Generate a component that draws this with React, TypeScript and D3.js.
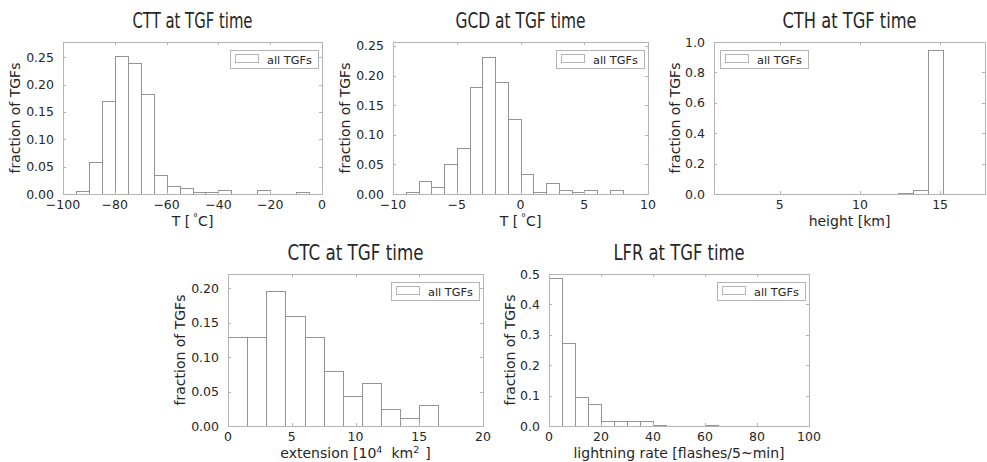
import React from 'react';
import * as d3 from 'd3';

// ---------- data ----------
const cttEdges = [-95, -90, -85, -80, -75, -70, -65, -60, -55, -50, -45, -40, -35, -30, -25, -20, -15, -10, -5];
const cttFraction = [0.006, 0.058, 0.170, 0.252, 0.240, 0.182, 0.035, 0.015, 0.011, 0.004, 0.004, 0.007, 0, 0, 0.007, 0, 0, 0.004];
const cttXTicks = [-100, -80, -60, -40, -20, 0];
const cttYTicks = [0, 0.05, 0.1, 0.15, 0.2, 0.25];

const gcdEdges = [-9, -8, -7, -6, -5, -4, -3, -2, -1, 0, 1, 2, 3, 4, 5, 6, 7, 8];
const gcdFraction = [0.004, 0.022, 0.011, 0.050, 0.077, 0.181, 0.231, 0.189, 0.127, 0.034, 0.004, 0.019, 0.007, 0.004, 0.007, 0, 0.007];
const gcdXTicks = [-10, -5, 0, 5, 10];
const gcdYTicks = [0, 0.05, 0.1, 0.15, 0.2, 0.25];

const cthEdges = [12.4, 13.33, 14.27, 15.2];
const cthFraction = [0.005, 0.028, 0.945];
const cthXTicks = [5, 10, 15];
const cthYTicks = [0, 0.2, 0.4, 0.6, 0.8, 1.0];

const ctcEdges = [0, 1.5, 3, 4.5, 6, 7.5, 9, 10.5, 12, 13.5, 15, 16.5];
const ctcFraction = [0.129, 0.129, 0.196, 0.159, 0.129, 0.080, 0.043, 0.062, 0.024, 0.012, 0.031];
const ctcXTicks = [0, 5, 10, 15, 20];
const ctcYTicks = [0, 0.05, 0.1, 0.15, 0.2];

const lfrEdges = [0, 5, 10, 15, 20, 25, 30, 35, 40, 45, 50, 55, 60, 65];
const lfrFraction = [0.488, 0.274, 0.097, 0.071, 0.016, 0.016, 0.016, 0.016, 0.003, 0, 0, 0, 0.003];
const lfrXTicks = [0, 20, 40, 60, 80, 100];
const lfrYTicks = [0, 0.1, 0.2, 0.3, 0.4, 0.5];

const FONT = "'DejaVu Sans', sans-serif";
const TEXT = '#262626';
const FRAME = '#b4b4b4';
const BAR = '#949494';
const LABEL = 14;

type PanelProps = {
  left: number; right: number; top: number; bottom: number;
  xDomain: [number, number]; yDomain: [number, number];
  edges: number[]; values: number[];
  xTicks: number[]; yTicks: number[]; yFmt: string;
  title: string; titleLen: number; xlabel: React.ReactNode;
  legendLeft?: boolean; ylabelOffset: number;
};

function Panel(p: PanelProps) {
  const x = d3.scaleLinear().domain(p.xDomain).range([p.left, p.right]);
  const y = d3.scaleLinear().domain(p.yDomain).range([p.bottom, p.top]);
  const yf = d3.format(p.yFmt);
  const xf = d3.format('d');
  const cx = (p.left + p.right) / 2;
  const cy = (p.top + p.bottom) / 2;
  const lw = 88, lh = 18;
  const lx = p.legendLeft ? p.left + 6 : p.right - 4 - lw;
  const ly = p.top + 8;
  return (
    <g fontFamily={FONT} fill={TEXT}>
      <text x={cx} y={p.top - 14} textAnchor="middle" fontSize={22} textLength={p.titleLen} lengthAdjust="spacingAndGlyphs">{p.title}</text>
      {p.values.map((v, i) => {
        const x0 = Math.round(x(p.edges[i])) + 0.5;
        const x1 = Math.round(x(p.edges[i + 1])) + 0.5;
        const y0 = Math.round(y(v)) + 0.5;
        const yb = Math.round(y(0)) + 0.5;
        return <rect key={i} x={x0} y={y0} width={x1 - x0} height={yb - y0} fill="white" stroke={BAR} strokeWidth={1} />;
      })}
      <rect x={p.left + 0.5} y={p.top + 0.5} width={p.right - p.left} height={p.bottom - p.top} fill="none" stroke={FRAME} strokeWidth={1} />
      {p.xTicks.map((t) => {
        const xx = Math.round(x(t)) + 0.5;
        return (
          <g key={'x' + t}>
            <line x1={xx} x2={xx} y1={p.bottom} y2={p.bottom - 3} stroke={FRAME} />
            <line x1={xx} x2={xx} y1={p.top} y2={p.top + 3} stroke={FRAME} />
            <text x={x(t)} y={p.bottom + 14.5} textAnchor="middle" fontSize={12.5}>{xf(t)}</text>
          </g>
        );
      })}
      {p.yTicks.map((t) => {
        const yy = Math.round(y(t)) + 0.5;
        return (
          <g key={'y' + t}>
            <line x1={p.left} x2={p.left + 3} y1={yy} y2={yy} stroke={FRAME} />
            <line x1={p.right} x2={p.right - 3} y1={yy} y2={yy} stroke={FRAME} />
            <text x={p.left - 9} y={y(t) + 4.5} textAnchor="end" fontSize={12.5}>{yf(t)}</text>
          </g>
        );
      })}
      <text x={cx} y={p.bottom + 31.5} textAnchor="middle" fontSize={LABEL}>{p.xlabel}</text>
      <text transform={`translate(${p.left - p.ylabelOffset},${cy}) rotate(-90)`} textAnchor="middle" fontSize={LABEL}>fraction of TGFs</text>
      <rect x={lx + 0.5} y={ly + 0.5} width={lw} height={lh} fill="white" stroke={FRAME} />
      <rect x={lx + 5.5} y={ly + 4.5} width={23} height={8} fill="white" stroke={FRAME} />
      <text x={lx + 37} y={ly + 13.5} fontSize={11.3}>all TGFs</text>
    </g>
  );
}

const degLabel = (
  <>
    {'T ['}
    <tspan dx={3} dy={-5} fontSize={10}>°</tspan>
    <tspan dy={5}>C]</tspan>
  </>
);

const extLabel = (
  <>
    {'extension [10'}
    <tspan dy={-5} fontSize={9.5}>4</tspan>
    <tspan dx={9} dy={5}>km</tspan>
    <tspan dy={-5} fontSize={9.5}>2</tspan>
    <tspan dx={6} dy={5}>]</tspan>
  </>
);

export default function App() {
  return (
    <svg width={987} height={462} style={{ position: 'absolute', left: 0, top: 0, background: 'white' }}>
      <rect width={987} height={462} fill="white" />
      <Panel left={63} right={322} top={42} bottom={194} xDomain={[-100, 0]} yDomain={[0, 0.278]}
        edges={cttEdges} values={cttFraction} xTicks={cttXTicks} yTicks={cttYTicks} yFmt=".2f"
        title="CTT at TGF time" titleLen={120} xlabel={degLabel} ylabelOffset={43} />
      <Panel left={393} right={648} top={42} bottom={194} xDomain={[-10, 10]} yDomain={[0, 0.2567]}
        edges={gcdEdges} values={gcdFraction} xTicks={gcdXTicks} yTicks={gcdYTicks} yFmt=".2f"
        title="GCD at TGF time" titleLen={130} xlabel={degLabel} ylabelOffset={43} />
      <Panel left={714} right={985} top={42} bottom={194} xDomain={[0.9, 17.8]} yDomain={[0, 1.0]}
        edges={cthEdges} values={cthFraction} xTicks={cthXTicks} yTicks={cthYTicks} yFmt=".1f"
        title="CTH at TGF time" titleLen={134} xlabel="height [km]" legendLeft ylabelOffset={34} />
      <Panel left={228} right={483} top={274} bottom={426} xDomain={[0, 20]} yDomain={[0, 0.2204]}
        edges={ctcEdges} values={ctcFraction} xTicks={ctcXTicks} yTicks={ctcYTicks} yFmt=".2f"
        title="CTC at TGF time" titleLen={136} xlabel={extLabel} ylabelOffset={43} />
      <Panel left={549} right={809} top={274} bottom={426} xDomain={[0, 100]} yDomain={[0, 0.5]}
        edges={lfrEdges} values={lfrFraction} xTicks={lfrXTicks} yTicks={lfrYTicks} yFmt=".1f"
        title="LFR at TGF time" titleLen={131} xlabel="lightning rate [flashes/5~min]" ylabelOffset={34} />
    </svg>
  );
}
